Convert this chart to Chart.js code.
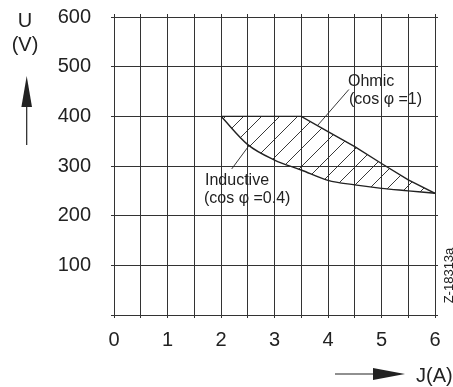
<!DOCTYPE html>
<html><head><meta charset="utf-8">
<script src="https://cdn.jsdelivr.net/npm/chart.js@4.4.1/dist/chart.umd.min.js"></script>
<style>html,body{margin:0;padding:0;background:#fff}#wrap{width:453px;height:387px;position:relative}</style>
</head><body><div id="wrap"><canvas id="c" width="453" height="387"></canvas></div>
<script>
// ---- data ----
const xTickLabels = [0, 1, 2, 3, 4, 5, 6];
const yTickLabels = [100, 200, 300, 400, 500, 600];
const currentA   = [2, 2.5, 3, 3.5, 4, 4.5, 5, 5.5, 6];
const ohmicV     = [400, 400, 400, 400, 369, 339, 305, 272, 245];
const inductiveV = [400, 343, 312, 292, 271, 262, 255, 250, 245];
const ohmicLeaderA = [3.8, 4.39];
const ohmicLeaderV = [381, 454];
const inductiveLeaderA = [2.2, 2.53];
const inductiveLeaderV = [294, 342];

const INK = '#222';
const GRID = '#333';
const FONT = "'Liberation Sans', Arial, sans-serif";

function pts(xs, ys){ return xs.map((x,i)=>({x:x, y:ys[i]})); }

const canvas = document.getElementById('c');
function hatchPattern(){
  const p = 18, c = document.createElement('canvas');
  c.width = p; c.height = p;
  const g = c.getContext('2d');
  g.strokeStyle = INK; g.lineWidth = 0.9;
  g.beginPath();
  g.moveTo(-2, p+2); g.lineTo(p+2, -2);
  g.moveTo(-2, 2); g.lineTo(2, -2);
  g.moveTo(p-2, p+2); g.lineTo(p+2, p-2);
  g.stroke();
  return canvas.getContext('2d').createPattern(c, 'repeat');
}

const annotations = {
  id: 'annotations',
  afterDraw(chart){
    const ctx = chart.ctx;
    ctx.save();
    ctx.fillStyle = INK; ctx.strokeStyle = INK;
    ctx.textAlign = 'center'; ctx.textBaseline = 'alphabetic';
    ctx.font = '20px ' + FONT;
    ctx.fillText('U', 25, 27);
    ctx.fillText('(V)', 25, 51);
    // vertical axis arrow
    ctx.lineWidth = 1.2;
    ctx.beginPath(); ctx.moveTo(26.7, 145); ctx.lineTo(26.7, 100); ctx.stroke();
    ctx.beginPath(); ctx.moveTo(26.7, 76); ctx.lineTo(32, 107); ctx.lineTo(21.4, 107); ctx.closePath(); ctx.fill();
    // horizontal axis arrow
    ctx.beginPath(); ctx.moveTo(335, 374); ctx.lineTo(380, 374); ctx.stroke();
    ctx.beginPath(); ctx.moveTo(405, 374); ctx.lineTo(373, 368); ctx.lineTo(373, 380); ctx.closePath(); ctx.fill();
    ctx.textAlign = 'left';
    ctx.fillText('J(A)', 416, 382);
    ctx.font = '16px ' + FONT;
    ctx.fillText('Ohmic', 348, 86);
    ctx.fillText('(cos \u03C6 =1)', 349, 103.5);
    ctx.fillText('Inductive', 205, 185);
    ctx.fillText('(cos \u03C6 =0.4)', 204, 203);
    ctx.translate(449, 275.5);
    ctx.rotate(-Math.PI/2);
    ctx.textAlign = 'center'; ctx.textBaseline = 'middle';
    ctx.font = '13px ' + FONT;
    ctx.fillText('Z-18313a', 0, 0);
    ctx.restore();
  }
};

const noPad = s => { s.paddingTop = 0; s.paddingBottom = 0; };

new Chart(canvas, {
  type: 'line',
  data: {
    datasets: [
      { label: 'Ohmic', data: pts(currentA, ohmicV), borderColor: INK, borderWidth: 1.4,
        tension: 0, pointRadius: 0, fill: '+1', backgroundColor: hatchPattern() },
      { label: 'Inductive', data: pts(currentA, inductiveV), borderColor: INK, borderWidth: 1.4,
        cubicInterpolationMode: 'monotone', pointRadius: 0, fill: false },
      { label: 'ohmicLeader', data: pts(ohmicLeaderA, ohmicLeaderV), borderColor: INK, borderWidth: 0.9,
        pointRadius: 0, fill: false },
      { label: 'inductiveLeader', data: pts(inductiveLeaderA, inductiveLeaderV), borderColor: INK, borderWidth: 0.9,
        pointRadius: 0, fill: false }
    ]
  },
  options: {
    responsive: false, animation: false,
    layout: { padding: 0 },
    plugins: { legend: { display: false }, tooltip: { enabled: false } },
    scales: {
      x: { type: 'linear', position: 'bottom', min: 0, max: 6,
        afterFit: s => { s.height = 72; },
        ticks: { stepSize: 0.5, autoSkip: false, maxRotation: 0, padding: 10, color: INK,
          font: { family: FONT, size: 20 },
          callback: v => xTickLabels.includes(v) ? String(v) : '' },
        grid: { color: GRID, lineWidth: 1, tickLength: 3, drawTicks: true },
        border: { color: GRID, width: 1 } },
      x2: { type: 'linear', position: 'top', min: 0, max: 6,
        afterFit: s => { s.height = 17; },
        ticks: { stepSize: 0.5, display: false },
        grid: { color: GRID, lineWidth: 1, tickLength: 3, drawOnChartArea: false },
        border: { color: GRID, width: 1 } },
      y: { type: 'linear', position: 'left', min: 0, max: 600,
        afterFit: s => { s.width = 114; noPad(s); },
        ticks: { stepSize: 100, padding: 20, color: INK, font: { family: FONT, size: 20 },
          callback: v => yTickLabels.includes(v) ? String(v) : '' },
        grid: { color: GRID, lineWidth: 1, tickLength: 3 },
        border: { color: GRID, width: 1 } },
      y2: { type: 'linear', position: 'right', min: 0, max: 600,
        afterFit: s => { s.width = 18; noPad(s); },
        ticks: { stepSize: 100, display: false },
        grid: { color: GRID, lineWidth: 1, tickLength: 3, drawOnChartArea: false },
        border: { color: GRID, width: 1 } }
    }
  },
  plugins: [annotations]
});
</script>
</body></html>
